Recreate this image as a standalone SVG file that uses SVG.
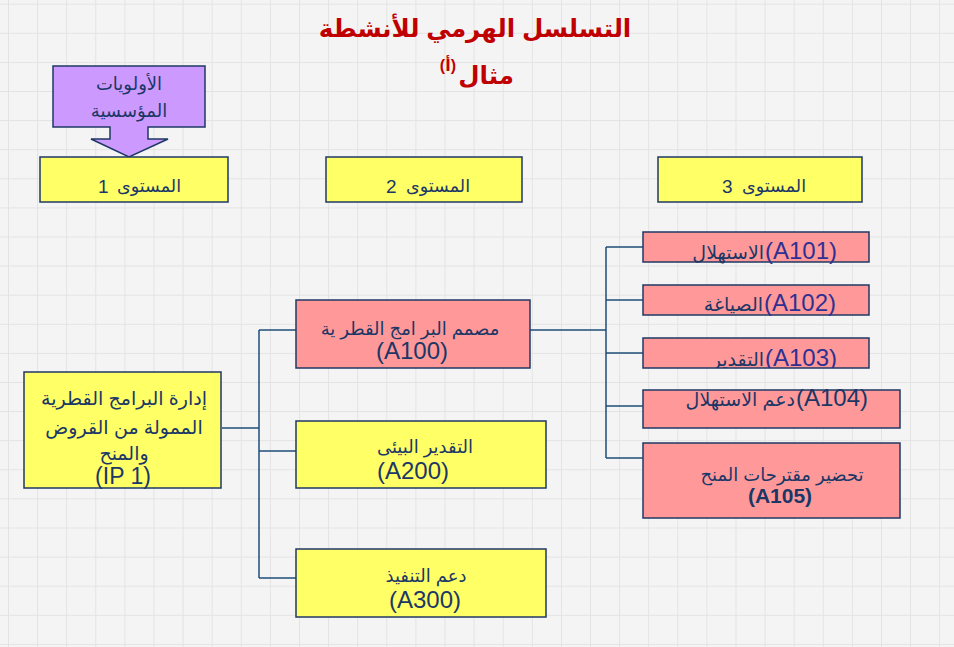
<svg xmlns="http://www.w3.org/2000/svg" width="954" height="647" viewBox="0 0 954 647">
<style>
text{font-family:"Liberation Sans","DejaVu Sans",sans-serif;fill:#1b3766;}
.t{text-anchor:middle;}
.e{text-anchor:end;}
.s{text-anchor:start;}
.title{fill:#c00000;font-weight:bold;font-size:24.5px;}
.y{fill:#ffff66;stroke:#1f3864;stroke-width:1.5;}
.p{fill:#ff9999;stroke:#1f3864;stroke-width:1.5;}
.c{fill:none;stroke:#1f4e79;stroke-width:1.5;}
.lv{font-size:17.5px;}
.n{font-size:18px;}
.ar{font-size:19px;}
.code{font-size:24px;}
.pc{fill:#2e3192;}
</style>
<defs>
<pattern id="grid" patternUnits="userSpaceOnUse" x="8" y="3.7" width="29.1" height="29.1">
<path d="M0 0.5H29.1M0.5 0V29.1" fill="none" stroke="#e3e3e3" stroke-width="1"/>
</pattern>
<clipPath id="c103"><rect x="643" y="338" width="226" height="30"/></clipPath>
</defs>
<rect width="954" height="647" fill="#f4f4f4"/>
<rect width="954" height="647" fill="url(#grid)"/>

<g id="title">
<text class="t title" x="475" y="37">التسلسل الهرمي للأنشطة</text>
<text class="t title" x="486" y="84">مثال</text>
<text class="e title" x="456" y="71" style="font-size:16px">(أ)</text>
</g>

<g id="priorities">
<path d="M53 66H205V127H148V139H168L129 157L91 139H110V127H53Z" fill="#cc99ff" stroke="#1f3864" stroke-width="1.5"/>
<text class="t" x="129" y="90" style="font-size:18px">الأولويات</text>
<text class="t" x="129" y="117" style="font-size:18px">المؤسسية</text>
</g>

<g id="level1">
<rect class="y" x="40" y="157" width="188" height="45"/>
<text class="s" x="98" y="193" style="font-size:19px">1</text>
<text class="e lv" x="181" y="192">المستوى</text>
</g>
<g id="level2">
<rect class="y" x="326" y="157" width="196" height="45"/>
<text class="s" x="386" y="193" style="font-size:19px">2</text>
<text class="e lv" x="470" y="192">المستوى</text>
</g>
<g id="level3">
<rect class="y" x="658" y="157" width="204" height="45"/>
<text class="s" x="722" y="193" style="font-size:19px">3</text>
<text class="e lv" x="806" y="192">المستوى</text>
</g>

<g id="connectors">
<path class="c" d="M222 428H259M259 330V578M259 330H296M259 451H296M259 578H296"/>
<path class="c" d="M530 330H606M606 247V458M606 247H643M606 300H643M606 353H643M606 406H643M606 458H643"/>
</g>

<g id="IP1">
<rect class="y" x="24" y="372" width="197" height="116"/>
<text class="t" x="124" y="405" style="font-size:19px">إدارة البرامج القطرية</text>
<text class="t" x="124" y="434" style="font-size:19px">الممولة من القروض</text>
<text class="t" x="124" y="460" style="font-size:19px">والمنح</text>
<text class="t" x="123" y="484" style="font-size:23px">(IP 1)</text>
</g>

<g id="A100">
<rect class="p" x="296" y="300" width="234" height="68"/>
<text class="t n" x="410" y="335">مصمم البر امج القطر ية</text>
<text class="t code" x="412" y="359">(A100)</text>
</g>
<g id="A200">
<rect class="y" x="296" y="421" width="250" height="67"/>
<text class="t n" x="425" y="453">التقدير  البيئى</text>
<text class="t code" x="413" y="479">(A200)</text>
</g>
<g id="A300">
<rect class="y" x="296" y="549" width="250" height="68"/>
<text class="t n" x="426" y="582">دعم التنفيذ</text>
<text class="t code" x="425" y="608">(A300)</text>
</g>

<g id="A101">
<rect class="p" x="643" y="232" width="226" height="30"/>
<text class="e ar" x="764" y="259">الاستهلال</text>
<text class="s code pc" x="765" y="259">(A101)</text>
</g>
<g id="A102">
<rect class="p" x="643" y="285" width="226" height="30"/>
<text class="e ar" x="763" y="311">الصياغة</text>
<text class="s code pc" x="764" y="311">(A102)</text>
</g>
<g id="A103">
<rect class="p" x="643" y="338" width="226" height="30"/>
<g clip-path="url(#c103)">
<text class="e ar" x="764" y="366">التقدير</text>
<text class="s code pc" x="765" y="366">(A103)</text>
</g>
</g>
<g id="A104">
<rect class="p" x="643" y="390" width="257" height="38"/>
<text class="e ar" x="795" y="406">دعم الاستهلال</text>
<text class="s code" x="796" y="406">(A104)</text>
</g>
<g id="A105">
<rect class="p" x="643" y="443" width="257" height="75"/>
<text class="t n" x="782" y="481">تحضير مقترحات المنح</text>
<text class="t" x="780" y="503" style="font-size:21px;font-weight:bold">(A105)</text>
</g>
</svg>
